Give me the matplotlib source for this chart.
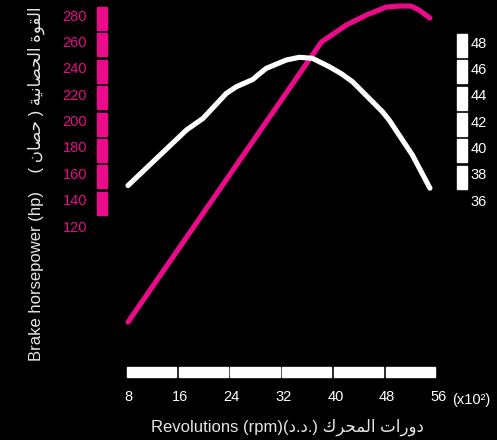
import matplotlib
matplotlib.use("Agg")
import matplotlib.pyplot as plt
from matplotlib.patches import Rectangle
from matplotlib.transforms import blended_transform_factory

plt.rcParams['font.family'] = ['Liberation Sans', 'DejaVu Sans']

pink = '#EA0A8A'
white = '#FFFFFF'

# ticks
rpm_ticks = [8, 16, 24, 32, 40, 48, 56]
hp_ticks = [120, 140, 160, 180, 200, 220, 240, 260, 280]
torque_ticks = [36, 38, 40, 42, 44, 46, 48]

# power curve (pink, left axis)
power_rpm = [8.0, 37.85, 41.7, 44.8, 47.85, 49.8, 51.7, 52.9, 54.6]
power_hp = [47.2, 259.5, 272.4, 280.0, 286.0, 286.8, 286.8, 283.8, 277.7]

# torque curve (white, right axis)
torque_rpm = [8.0, 17.03, 19.58, 23.18, 24.72, 27.28, 28.05, 29.34, 32.42, 34.46,
              36.46, 39.08, 40.9, 42.66, 47.28, 48.31, 51.89, 54.6]
torque_val = [37.1, 41.32, 42.2, 44.1, 44.6, 45.16, 45.49, 46.0, 46.63, 46.84,
              46.76, 46.12, 45.6, 44.98, 42.7, 42.07, 39.42, 36.9]

# arabic text written with presentation forms in visual order (no bidi in matplotlib)
dal = '\ufea9'
ar_rpm = '(' + dal + '.' + dal + '.) ' + '\ufed9\ufeae\ufea4\ufee4\ufedf\ufe8d' + ' ' + '\ufe95\ufe8d\ufead\ufeed\ufea9'
ar_hp = '( ' + '\ufee5\ufe8e\ufebc\ufea3' + ' ) ' + '\ufe94\ufef4\ufee7\ufe8e\ufebc\ufea4\ufedf\ufe8d' + ' ' + '\ufe93\ufeee\ufed8\ufedf\ufe8d'
xlabel = 'Revolutions (rpm)' + ar_rpm
ylabel = 'Brake horsepower (hp)    ' + ar_hp

W, H = 497, 440
fig = plt.figure(figsize=(W/100, H/100), dpi=100, facecolor='black')
ax = fig.add_axes([128/W, 1-340/H, 311/W, 335/H])
ax.set_facecolor('none')
ax2 = ax.twinx()

ax.set_xlim(8, 56)
ax.set_ylim(33.6, 287.6)
ax2.set_ylim(25.37, 50.81)

ax.plot(power_rpm, power_hp, color=pink, lw=3.7, solid_capstyle='round',
        solid_joinstyle='round', clip_on=False, zorder=3)
ax2.plot(torque_rpm, torque_val, color=white, lw=3.7, solid_capstyle='round',
         solid_joinstyle='round', clip_on=False, zorder=2)

for a in (ax, ax2):
    for s in a.spines.values():
        s.set_visible(False)

ax.set_xticks(rpm_ticks)
ax.set_yticks(hp_ticks)
ax2.set_yticks(torque_ticks)
ax.tick_params(axis='x', length=0, pad=36, labelsize=10.5, labelcolor=white)
ax.tick_params(axis='y', length=0, pad=29.5, labelsize=10.5, labelcolor=pink)
ax2.tick_params(axis='y', length=0, pad=23, labelsize=10.5, labelcolor=white)

# bars next to the tick labels
tl = blended_transform_factory(ax.transAxes, ax.transData)
for v in hp_ticks[1:]:
    ax.add_patch(Rectangle((-0.0994, v - 11.4), 0.032, 17.4, transform=tl,
                           color=pink, clip_on=False))
tr = blended_transform_factory(ax2.transAxes, ax2.transData)
for v in torque_ticks[1:]:
    ax2.add_patch(Rectangle((1.0577, v - 1.14), 0.032, 1.74, transform=tr,
                            color=white, clip_on=False))
tb = blended_transform_factory(ax.transData, ax.transAxes)
for v in rpm_ticks[:-1]:
    ax.add_patch(Rectangle((v - 0.2, -0.1104), 7.6, 0.0298, transform=tb,
                           color=white, clip_on=False))

fig.text(452/W, 1-400/H, '(x10\u00b2)', color=white, fontsize=10.5,
         ha='left', va='center')
fig.text(287/W, 1-427/H, xlabel, color='#E6E6E6', fontsize=12,
         ha='center', va='center')
fig.text(36/W, 1-184/H, ylabel, color='#E6E6E6', fontsize=12,
         rotation=90, ha='center', va='center')

fig.savefig('out.png', dpi=100, facecolor='black')
